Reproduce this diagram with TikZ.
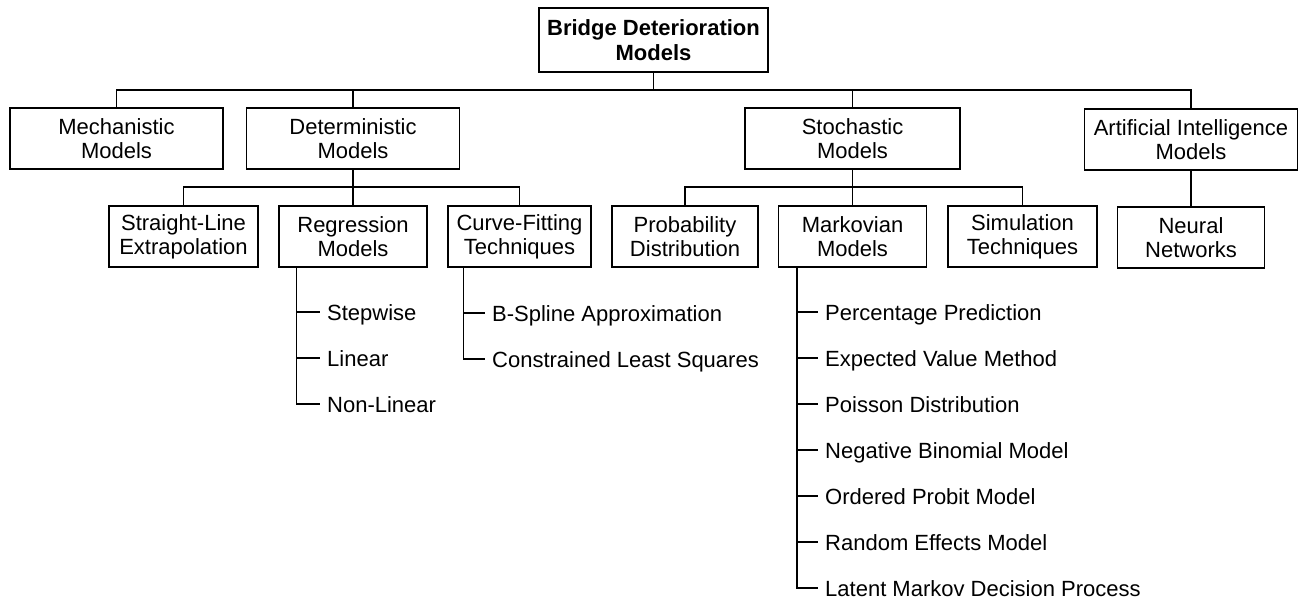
\documentclass[tikz,border=0pt]{standalone}
\usepackage{fontspec}
\setmainfont{Liberation Sans}
\begin{document}
\begin{tikzpicture}[x=1pt,y=-1pt,
  box/.style={draw, line width=1.5pt, inner sep=0pt, align=center,
    minimum height=61pt, font=\fontsize{22}{24}\selectfont},
  item/.style={anchor=west, inner sep=0pt, font=\fontsize{22}{24}\selectfont,
    text height=16pt, text depth=0pt},
  wire/.style={line width=1.5pt}]
\useasboundingbox (0,0) rectangle (1305,601);

% root
\node[box, minimum width=229pt, minimum height=64pt, font=\fontsize{22}{25}\selectfont\bfseries]
  (root) at (653.5,40) {Bridge Deterioration\\Models};

% first level
\node[box, minimum width=213pt] (mech)  at (116.5,138.5) {Mechanistic\\Models};
\node[box, minimum width=213pt] (det)   at (353,138.5)   {Deterministic\\Models};
\node[box, minimum width=215pt] (stoch) at (852.5,138.5) {Stochastic\\Models};
\node[box, minimum width=213pt] (ai)    at (1191,139.5)  {Artificial Intelligence\\Models};

% second level
\node[box, minimum width=149pt] (sl)   at (183.5,236.5)  {Straight-Line\\Extrapolation};
\node[box, minimum width=148pt] (reg)  at (353,236.5)    {Regression\\Models};
\node[box, minimum width=143pt] (cf)   at (519.5,236.5)  {Curve-Fitting\\Techniques};
\node[box, minimum width=146pt] (prob) at (685,236.5)    {Probability\\Distribution};
\node[box, minimum width=148pt] (mark) at (852.5,236.5)  {Markovian\\Models};
\node[box, minimum width=149pt] (sim)  at (1022.5,236.5) {Simulation\\Techniques};
\node[box, minimum width=147pt] (nn)   at (1191,237.5)   {Neural\\Networks};

% bus lines
\coordinate (b1) at (0,90);
\coordinate (b2) at (0,187);
\draw[wire] (root.south) -- (root.south |- b1);
\draw[wire] (mech.north) |- (ai.north |- b1) -- (ai.north);
\draw[wire] (det.north) -- (det.north |- b1);
\draw[wire] (stoch.north) -- (stoch.north |- b1);

\draw[wire] (sl.north) |- (cf.north |- b2) -- (cf.north);
\draw[wire] (det.south) -- (reg.north);
\draw[wire] (prob.north) |- (sim.north |- b2) -- (sim.north);
\draw[wire] (stoch.south) -- (mark.north);
\draw[wire] (ai.south) -- (nn.north);

% regression variants
\node[item] (r1) at (327,312) {Stepwise};
\node[item] (r2) at (327,358) {Linear};
\node[item] (r3) at (327,404) {Non-Linear};
\coordinate (rl) at ([xshift=18pt]reg.south west);
\draw[wire] (rl) |- ([xshift=-7pt]r3.west);
\foreach \k in {r1,r2} \draw[wire] (rl |- \k.west) -- ([xshift=-7pt]\k.west);

% curve-fitting variants
\node[item] (c1) at (492,313) {B-Spline Approximation};
\node[item] (c2) at (492,359) {Constrained Least Squares};
\coordinate (cl) at ([xshift=16pt]cf.south west);
\draw[wire] (cl) |- ([xshift=-7pt]c2.west);
\draw[wire] (cl |- c1.west) -- ([xshift=-7pt]c1.west);

% markovian variants
\node[item] (m1) at (825,312) {Percentage Prediction};
\node[item] (m2) at (825,358) {Expected Value Method};
\node[item] (m3) at (825,404) {Poisson Distribution};
\node[item] (m4) at (825,450) {Negative Binomial Model};
\node[item] (m5) at (825,496) {Ordered Probit Model};
\node[item] (m6) at (825,542) {Random Effects Model};
\node[item] (m7) at (825,588) {Latent Markov Decision Process};
\coordinate (ml) at ([xshift=19pt]mark.south west);
\draw[wire] (ml) |- ([xshift=-7pt]m7.west);
\foreach \k in {m1,m2,m3,m4,m5,m6} \draw[wire] (ml |- \k.west) -- ([xshift=-7pt]\k.west);
\end{tikzpicture}
\end{document}
